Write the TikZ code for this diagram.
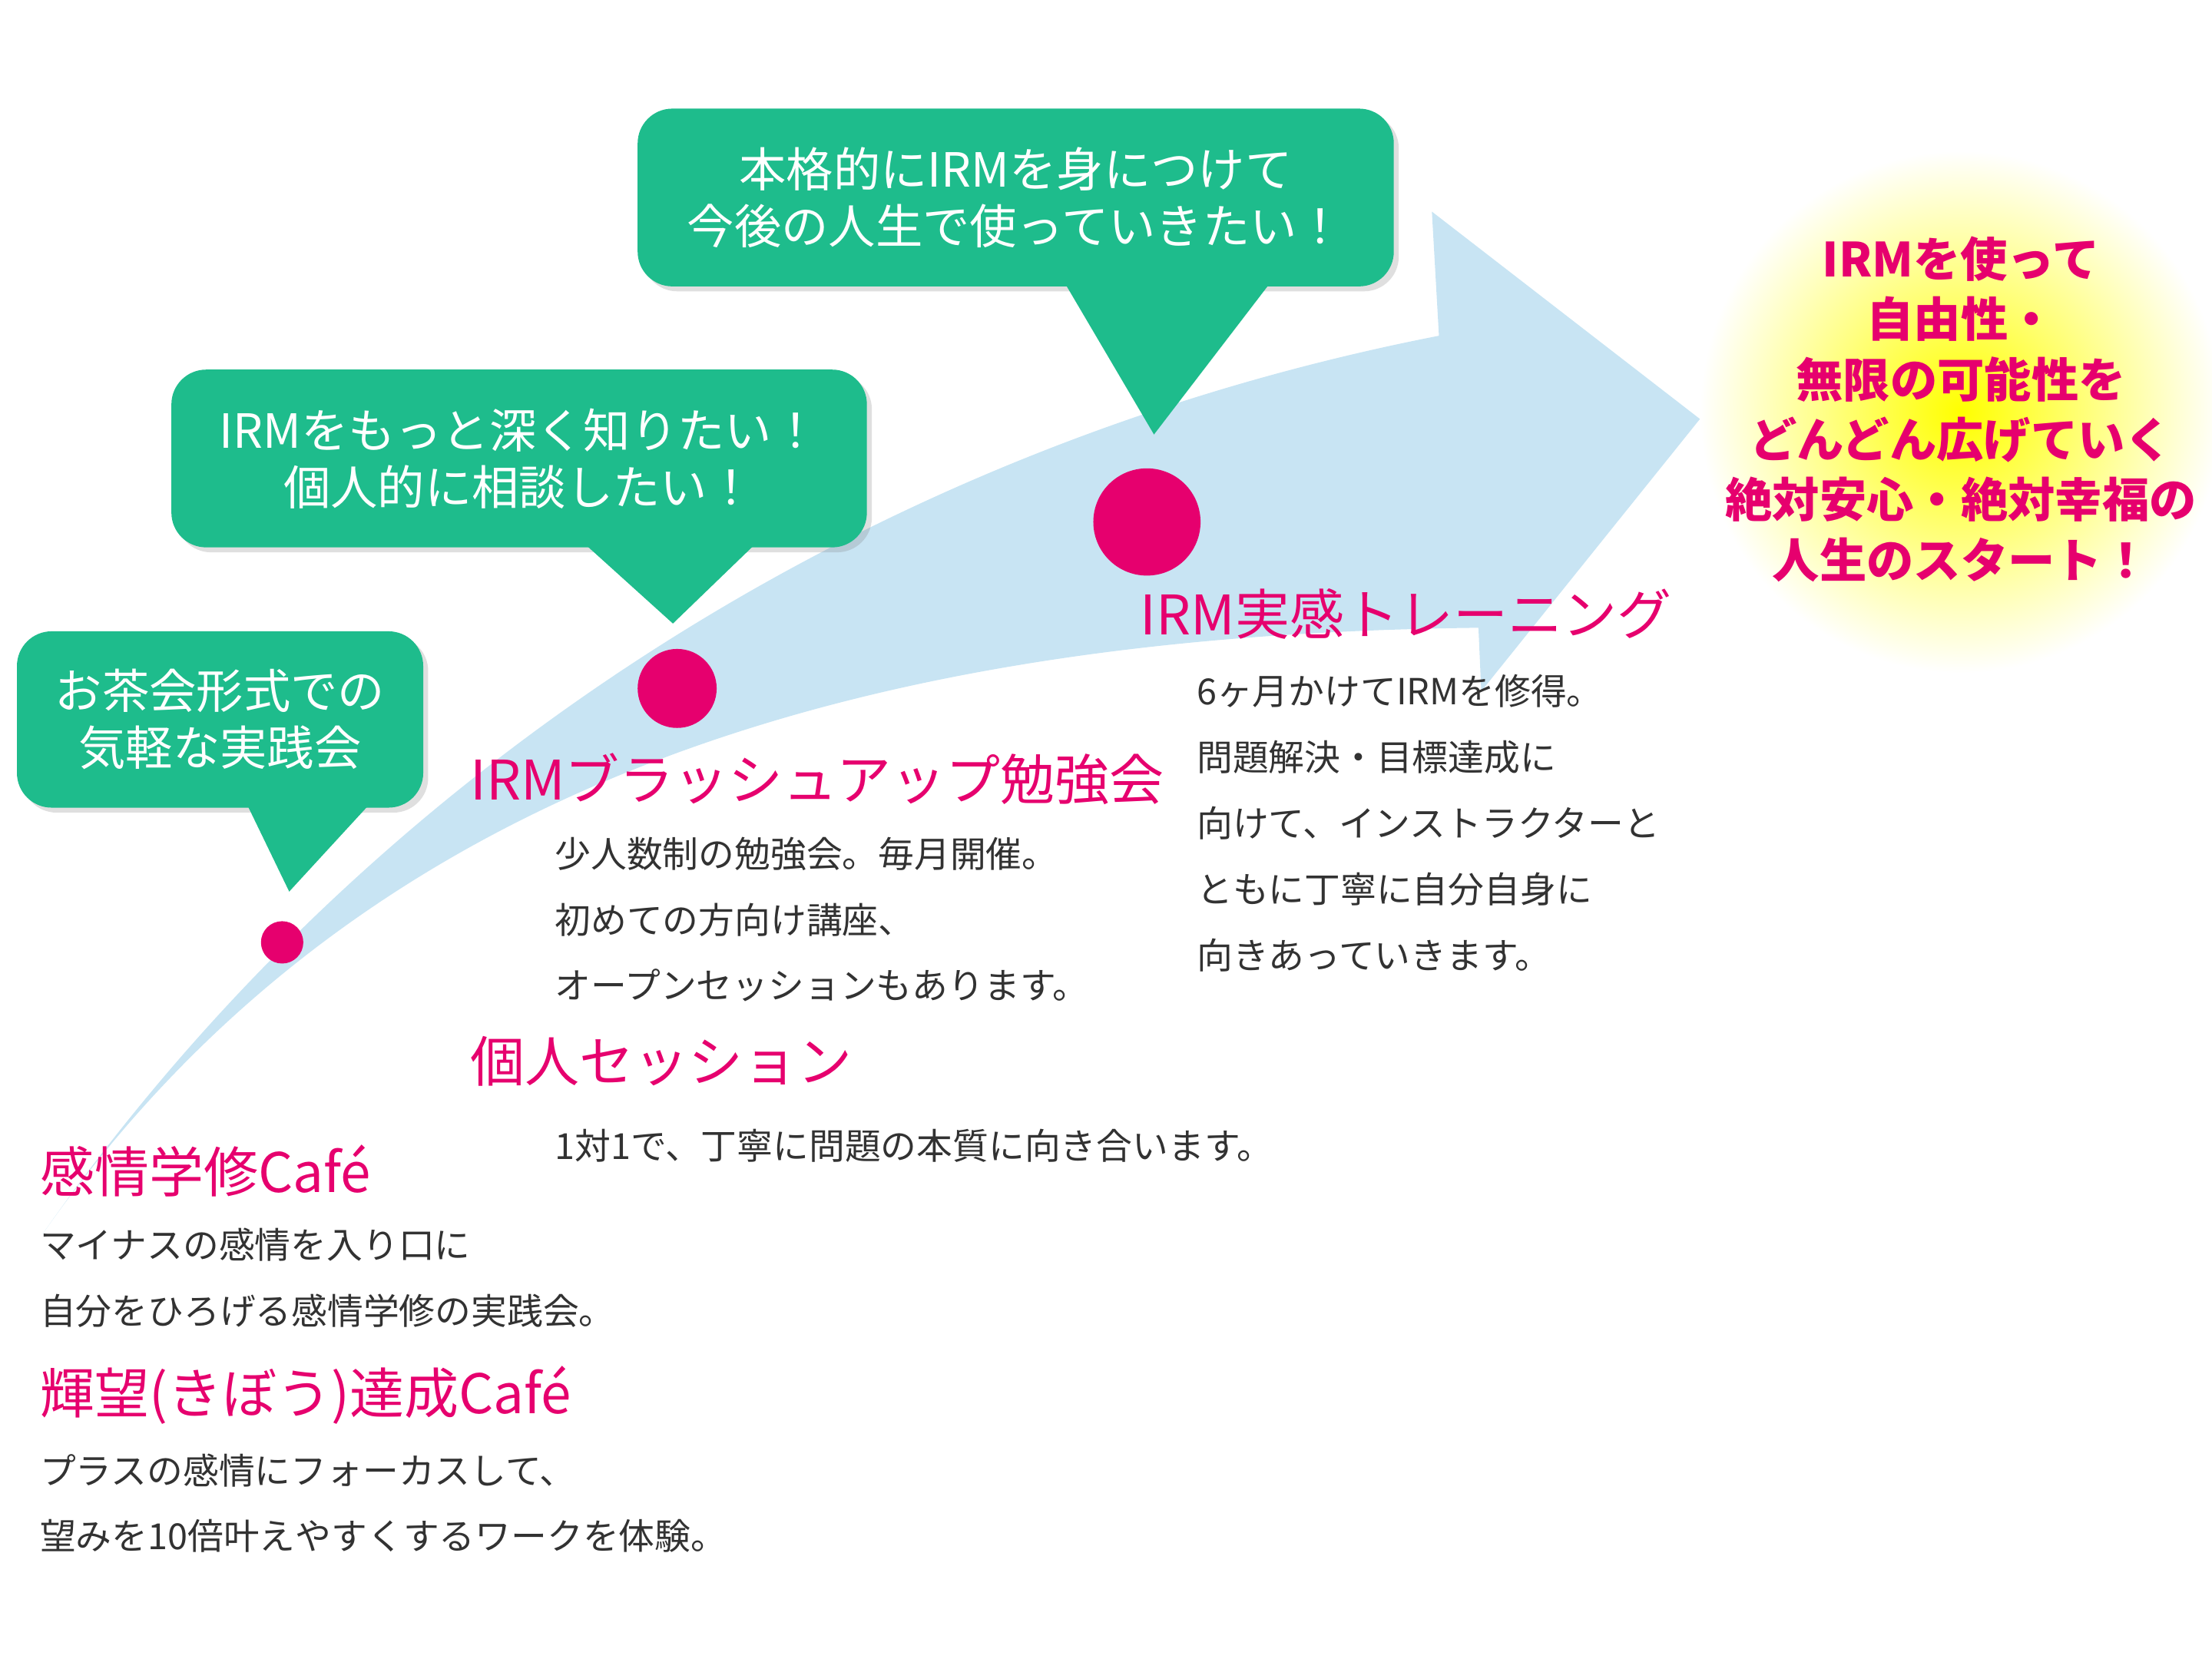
\documentclass[tikz,border=0pt]{standalone}
\usepackage{fontspec}
\setmainfont{Noto Sans CJK JP}
\usetikzlibrary{shadows}
\definecolor{arrowblue}{RGB}{200,228,243}
\definecolor{pinkc}{RGB}{230,0,110}
\definecolor{greenc}{RGB}{30,188,140}
\definecolor{textc}{RGB}{50,50,50}
\tikzset{
 bubble/.style={fill=greenc,rounded corners=14pt,text=white,align=center,drop shadow={opacity=0.25,shadow xshift=2pt,shadow yshift=-2pt},font=\fontsize{19}{23}\selectfont},
 head/.style={anchor=base west,text=pinkc,inner sep=0,font=\fontsize{22}{26}\selectfont},
 body/.style={anchor=north west,text=textc,inner sep=0,align=left,font=\fontsize{14.5}{26.6}\selectfont},
 dot/.style={circle,fill=pinkc,inner sep=0}
}
\begin{document}
\begin{tikzpicture}[x=0.02cm,y=-0.02cm]
\useasboundingbox (0,0) rectangle (1568,1176);
% glow
\shade[inner color=yellow,outer color=white] (1390,292) circle (185);
% arrow
\fill[arrowblue] (30,875) .. controls (250,560) and (600,320) .. (1020,238) -- (1015,150) -- (1205,297) -- (1050,490) -- (1048,445) .. controls (600,450) and (250,560) .. (30,875) -- cycle;
% dots
\node[dot,minimum size=30*0.02cm] (d1) at (200,668) {};
\node[dot,minimum size=56*0.02cm] (d2) at (480,488) {};
\node[dot,minimum size=76*0.02cm] (d3) at (813,370) {};
% bubbles
\node[bubble,minimum width=288*0.02cm,minimum height=125*0.02cm] (b1) at (156,510) {お茶会形式での\\気軽な実践会};
\fill[greenc] (175,570) -- (205,632) -- (262,570) -- cycle;
\node[bubble,minimum width=493*0.02cm,minimum height=126*0.02cm] (b2) at (368,325) {IRMをもっと深く知りたい！\\個人的に相談したい！};
\fill[greenc] (415,386) -- (477,442) -- (535,386) -- cycle;
\node[bubble,minimum width=536*0.02cm,minimum height=126*0.02cm] (b3) at (720,140) {本格的にIRMを身につけて\\今後の人生で使っていきたい！};
\fill[greenc] (755,201) -- (818,308) -- (900,201) -- cycle;
% glow text
\node[text=pinkc,align=center,font=\bfseries\fontsize{19}{24.3}\selectfont] (g) at (1390,290) {IRMを使って\\自由性・\\無限の可能性を\\どんどん広げていく\\絶対安心・絶対幸福の\\人生のスタート！};
% headings and bodies
\node[head] (h1) at (28,845) {感情学修Café};
\node[body] (t1) at (28,870) {マイナスの感情を入り口に\\自分をひろげる感情学修の実践会。};
\node[head] (h2) at (28,1002) {輝望(きぼう)達成Café};
\node[body] (t2) at (28,1030) {プラスの感情にフォーカスして、\\望みを10倍叶えやすくするワークを体験。};
\node[head] (h3) at (333,767) {個人セッション};
\node[body] (t3) at (393,800) {1対1で、丁寧に問題の本質に向き合います。};
\node[head] (h4) at (333,567) {IRMブラッシュアップ勉強会};
\node[body] (t4) at (393,593) {少人数制の勉強会。毎月開催。\\初めての方向け講座、\\オープンセッションもあります。};
\node[head] (h5) at (808,450) {IRM実感トレーニング};
\node[body] (t5) at (848,478) {6ヶ月かけてIRMを修得。\\問題解決・目標達成に\\向けて、インストラクターと\\ともに丁寧に自分自身に\\向きあっていきます。};
\end{tikzpicture}
\end{document}
